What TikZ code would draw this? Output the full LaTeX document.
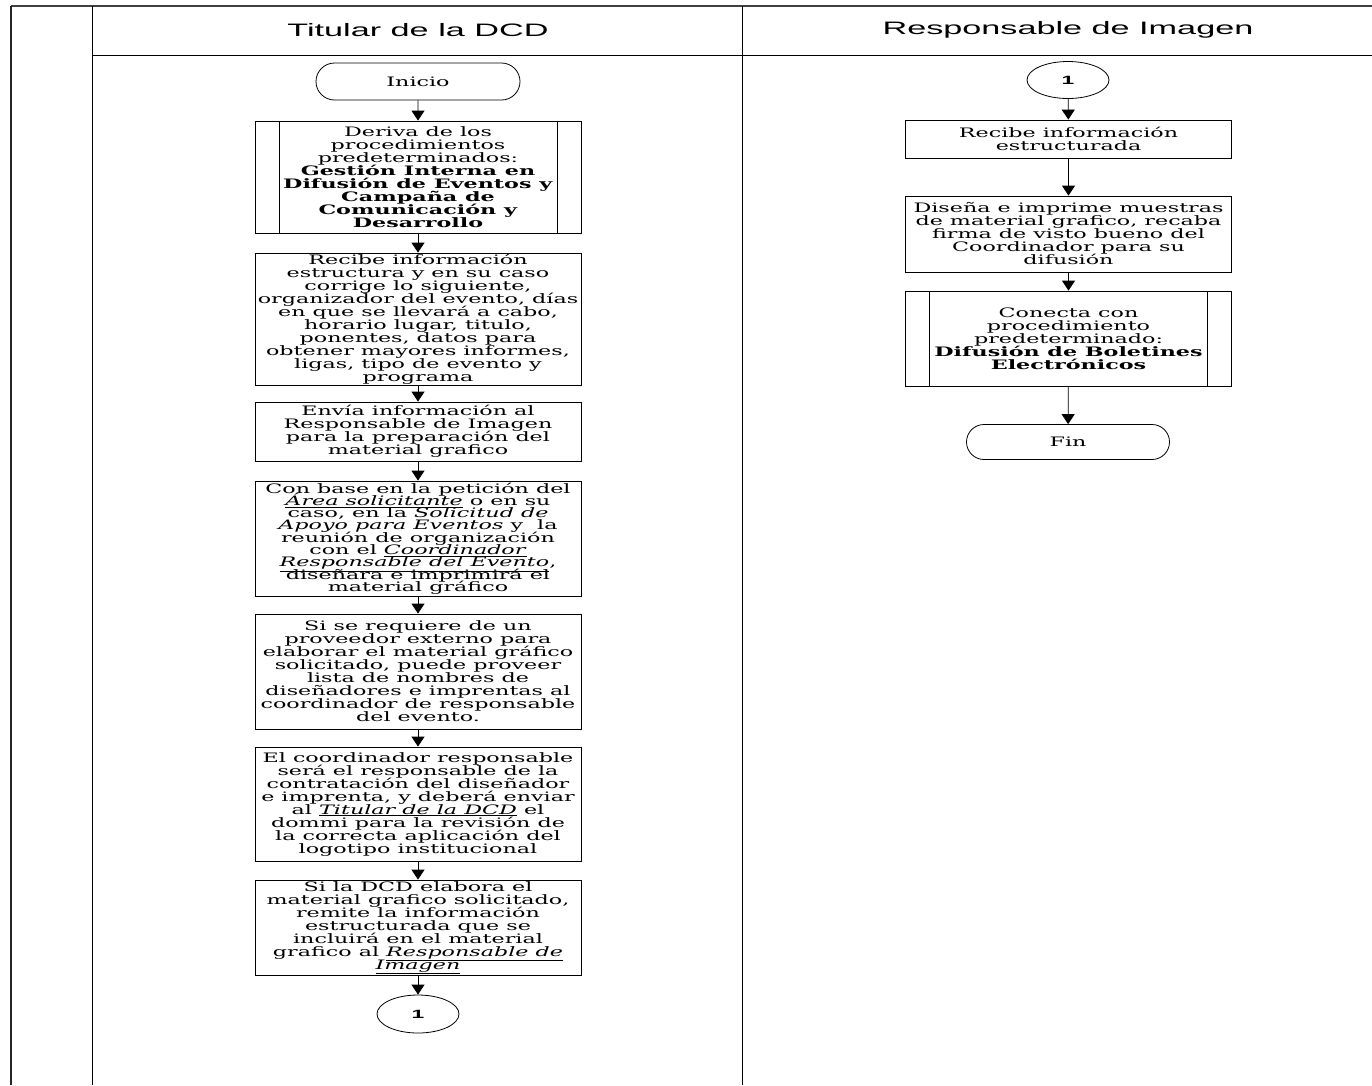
\documentclass[tikz,border=0pt]{standalone}
\usepackage{fontspec}
\setmainfont{DejaVu Serif}[FakeStretch=1.71]
\newfontfamily\headfont{Liberation Sans}[FakeStretch=1.9]
\usepackage{tikz}
\usetikzlibrary{arrows.meta,shapes.geometric,shapes.misc}
\newcommand{\cuerpo}{\fontsize{13}{13}\selectfont\lineskiplimit-20pt\relax}
\newcommand{\cuerpoapretado}{\fontsize{13}{12.3}\selectfont\lineskiplimit-20pt\relax}

\begin{document}
\begin{tikzpicture}[x=1pt,y=-1pt,
    caja/.style={draw,line width=0.8pt,minimum width=326pt,inner sep=0pt,align=center,font=\cuerpo},
    predef/.style={caja,path picture={
        \draw[line width=0.8pt] ([xshift=24pt]path picture bounding box.north west) -- ([xshift=24pt]path picture bounding box.south west);
        \draw[line width=0.8pt] ([xshift=-24pt]path picture bounding box.north east) -- ([xshift=-24pt]path picture bounding box.south east);}},
    termino/.style={draw,line width=0.8pt,rounded rectangle,minimum width=204pt,minimum height=37pt,inner sep=0pt,font=\cuerpo},
    conector/.style={draw,line width=0.8pt,ellipse,minimum width=82pt,minimum height=38pt,inner sep=0pt,font=\headfont\bfseries\fontsize{12}{14}\selectfont},
    flecha/.style={line width=0.8pt,-{Triangle[width=13pt,length=10pt]}},
    carril/.style={font=\headfont\fontsize{18}{20}\selectfont}]
  \useasboundingbox (0,0) rectangle (1372,1085);
  % marco y carriles
  \draw[line width=2pt,black!75] (11,6) -- (1372,6);
  \draw[line width=2pt,black!85] (11,6) -- (11,1085);
  \draw[line width=1pt] (92,6) -- (92,1085) (742,6) -- (742,1085) (92,55) -- (1372,55);
  \node[carril] (h1) at (418,30) {Titular de la DCD};
  \node[carril] (h2) at (1068,30) {Responsable de Imagen};

  % Titular de la DCD
  \node[termino] (ini) at (418,81.5) {Inicio};
  \node[predef,minimum height=112pt] (b2) at (418,177) {Deriva de los\\procedimientos\\predeterminados:\\\textbf{Gestión Interna en}\\\textbf{Difusión de Eventos y}\\\textbf{Campaña de}\\\textbf{Comunicación y}\\\textbf{Desarrollo}};
  \node[caja,minimum height=132pt] (b3) at (418,319) {Recibe información\\estructura y en su caso\\corrige lo siguiente,\\organizador del evento, días\\en que se llevará a cabo,\\horario lugar, titulo,\\ponentes, datos para\\obtener mayores informes,\\ligas, tipo de evento y\\programa};
  \node[caja,minimum height=59pt] (b4) at (418,431.5) {Envía información al\\Responsable de Imagen\\para la preparación del\\material grafico};
  \node[caja,minimum height=115pt,font=\cuerpoapretado] (b5) at (418,538.5) {Con base en la petición del\\\underline{\textit{Área solicitante}} o en su\\caso, en la \textit{Solicitud de}\\\textit{Apoyo para Eventos} y\ \ la\\reunión de organización\\con el \underline{\textit{Coordinador}}\\\underline{\textit{Responsable del Evento}},\\diseñara e imprimirá el\\material gráfico};
  \node[caja,minimum height=115pt] (b6) at (418,671.5) {Si se requiere de un\\proveedor externo para\\elaborar el material gráfico\\solicitado, puede proveer\\lista de nombres de\\diseñadores e imprentas al\\coordinador de responsable\\del evento.};
  \node[caja,minimum height=114pt] (b7) at (418,804) {El coordinador responsable\\será el responsable de la\\contratación del diseñador\\e imprenta, y deberá enviar\\al \underline{\textit{Titular de la DCD}} el\\dommi para la revisión de\\la correcta aplicación del\\logotipo institucional};
  \node[caja,minimum height=95pt] (b8) at (418,927.5) {Si la DCD elabora el\\material grafico solicitado,\\remite la información\\estructurada que se\\incluirá en el material\\grafico al \underline{\textit{Responsable de}}\\\underline{\textit{Imagen}}};
  \node[conector] (c1) at (418,1014) {1};

  % Responsable de Imagen
  \node[conector,minimum height=37pt] (c2) at (1068,80) {1};
  \node[caja,minimum height=38pt] (r1) at (1068.5,139) {Recibe información\\estructurada};
  \node[caja,minimum height=76pt] (r2) at (1068.5,234) {Diseña e imprime muestras\\de material grafico, recaba\\firma de visto bueno del\\Coordinador para su\\difusión};
  \node[predef,minimum height=95pt] (r3) at (1068.5,338.5) {Conecta con\\procedimiento\\predeterminado:\\\textbf{Difusión de Boletines}\\\textbf{Electrónicos}};
  \node[termino,minimum width=203pt,minimum height=35pt] (fin) at (1068,442) {Fin};

  \foreach \a/\b in {ini/b2,b2/b3,b3/b4,b4/b5,b5/b6,b6/b7,b7/b8,b8/c1,c2/r1,r1/r2,r2/r3,r3/fin}
    \draw[flecha] (\a) -- (\b);
\end{tikzpicture}
\end{document}
